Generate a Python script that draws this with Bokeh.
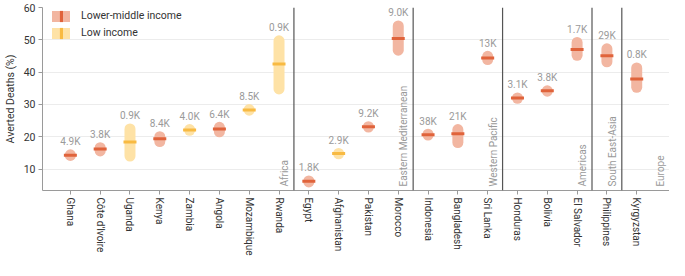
import math
from bokeh.plotting import figure
from bokeh.models import ColumnDataSource, Range1d, FixedTicker, Span, Legend, LegendItem
from bokeh.core.properties import value
from bokeh.embed import file_html
from bokeh.resources import INLINE

countries = ["Ghana", "Côte d'Ivoire", "Uganda", "Kenya", "Zambia", "Angola", "Mozambique", "Rwanda",
             "Egypt", "Afghanistan", "Pakistan", "Morocco",
             "Indonesia", "Bangladesh", "Sri Lanka",
             "Honduras", "Bolivia", "El Salvador",
             "Philippines", "Kyrgyzstan"]
income = ["LM", "LM", "L", "LM", "L", "LM", "L", "L",
          "LM", "L", "LM", "LM",
          "LM", "LM", "LM",
          "LM", "LM", "LM",
          "LM", "LM"]
median = [14.3, 16.2, 18.4, 19.4, 22.1, 22.4, 28.3, 42.5,
          6.2, 14.8, 23.1, 50.4,
          20.6, 20.9, 44.4,
          32.0, 34.2, 47.0,
          45.1, 37.9]
low = [14.2, 15.6, 14.0, 18.5, 22.0, 21.5, 28.2, 34.8,
       6.0, 14.7, 23.0, 46.8,
       20.5, 18.2, 43.9,
       31.9, 34.1, 45.2,
       43.2, 35.3]
high = [14.4, 16.6, 22.4, 20.0, 22.2, 22.9, 28.4, 49.7,
        6.3, 14.8, 23.1, 54.3,
        20.8, 22.2, 44.9,
        32.0, 34.2, 49.2,
        47.2, 41.3]
deaths = ["4.9K", "3.8K", "0.9K", "8.4K", "4.0K", "6.4K", "8.5K", "0.9K",
          "1.8K", "2.9K", "9.2K", "9.0K",
          "38K", "21K", "13K",
          "3.1K", "3.8K", "1.7K",
          "29K", "0.8K"]
regions = ["Africa", "Eastern Mediterranean", "Western Pacific", "Americas", "South East-Asia", "Europe"]
region_sizes = [8, 4, 3, 3, 1, 1]
y_ticks = [10, 20, 30, 40, 50, 60]

FONT = "Roboto"
cap_col = {"LM": "#f2b6a1", "L": "#fee2a6"}
med_col = {"LM": "#e0633b", "L": "#f8ba42"}
labels_income = {"LM": "Lower-middle income", "L": "Low income"}

W, H = 669, 260
BT, BB = 7, 70
X0, X1 = -0.935, 20.1
Y0, Y1 = 3.35, 60

p = figure(width=W, height=H, output_backend="svg", toolbar_location=None,
           x_range=Range1d(X0, X1), y_range=Range1d(Y0, Y1),
           min_border_top=BT, min_border_bottom=BB, min_border_right=0, min_border_left=10)
p.outline_line_color = None
p.xgrid.visible = False
p.ygrid.grid_line_color = "#ececec"
p.ygrid.ticker = FixedTicker(ticks=y_ticks)

# separators between regions
pos = 0
for n in region_sizes[:-1]:
    pos += n
    p.add_layout(Span(location=pos - 0.5, dimension="height", line_color="#555555", line_width=1.2))

xs = list(range(len(countries)))
seg_r, med_r = {}, {}
for g in ["LM", "L"]:
    idx = [i for i in xs if income[i] == g]
    src = ColumnDataSource(dict(
        x=[xs[i] for i in idx], lo=[low[i] for i in idx], hi=[high[i] for i in idx],
        med=[median[i] for i in idx], lab=[deaths[i] for i in idx]))
    seg_r[g] = p.segment(x0="x", y0="lo", x1="x", y1="hi", source=src,
                         line_color=cap_col[g], line_width=11, line_cap="round")
    med_r[g] = p.rect(x="x", y="med", width=13, height=3, width_units="screen", height_units="screen",
                      source=src, fill_color=med_col[g], line_color=None)
    p.text(x="x", y="hi", text="lab", source=src, y_offset=-13,
           text_align="center", text_baseline="middle", text_font=value(FONT),
           text_font_size="10px", text_color="#9a9a9a")

# region labels
pos = 0
rx, ry, rt = [], [], []
for name, n in zip(regions, region_sizes):
    pos += n
    rx.append(pos - 0.5 if name != regions[-1] else X1)
    ry.append(Y0)
    rt.append(name)
p.text(x=rx, y=ry, text=rt, angle=math.pi / 2, x_offset=-4, y_offset=-4,
       text_align="left", text_baseline="bottom", text_font=value(FONT),
       text_font_size="10px", text_color="#9a9a9a")

# axes
p.yaxis.ticker = FixedTicker(ticks=y_ticks)
p.yaxis.axis_label = "Averted Deaths (%)"
p.yaxis.axis_label_text_font_style = "normal"
p.yaxis.axis_label_text_font = FONT
p.yaxis.axis_label_text_font_size = "10.5px"
p.yaxis.axis_label_text_color = "#333333"
p.yaxis.axis_label_standoff = 4

p.xaxis.ticker = FixedTicker(ticks=xs)
p.xaxis.major_label_overrides = {i: c for i, c in zip(xs, countries)}
p.xaxis.major_label_orientation = "vertical"

for ax in [p.xaxis, p.yaxis]:
    ax.axis_line_color = "#9a9a9a"
    ax.major_tick_line_color = "#9a9a9a"
    ax.major_tick_out = 4
    ax.major_tick_in = 0
    ax.minor_tick_line_color = None
    ax.major_label_text_font = FONT
    ax.major_label_text_color = "#333333"
    ax.major_label_standoff = 3
p.yaxis.major_label_text_font_size = "10.5px"
p.xaxis.major_label_text_font_size = "10px"

# legend: pill + vertical median bar (second legend overlaid)
frame_h = H - BT - BB
leg_y = frame_h - 34
common = dict(padding=0, spacing=0, label_height=17, glyph_height=14,
              background_fill_alpha=0, border_line_alpha=0,
              label_text_font=FONT, label_text_font_size="10.5px", label_text_color="#333333")
leg1 = Legend(items=[LegendItem(label=labels_income[g], renderers=[seg_r[g]]) for g in ["LM", "L"]],
              location=(10, leg_y), glyph_width=18, label_standoff=11, **common)
leg2 = Legend(items=[LegendItem(label=" ", renderers=[med_r[g]]) for g in ["LM", "L"]],
              location=(17, leg_y), glyph_width=4, label_standoff=0, **common)
p.add_layout(leg1)
p.add_layout(leg2)

open("out.html", "w").write(file_html(p, INLINE))
